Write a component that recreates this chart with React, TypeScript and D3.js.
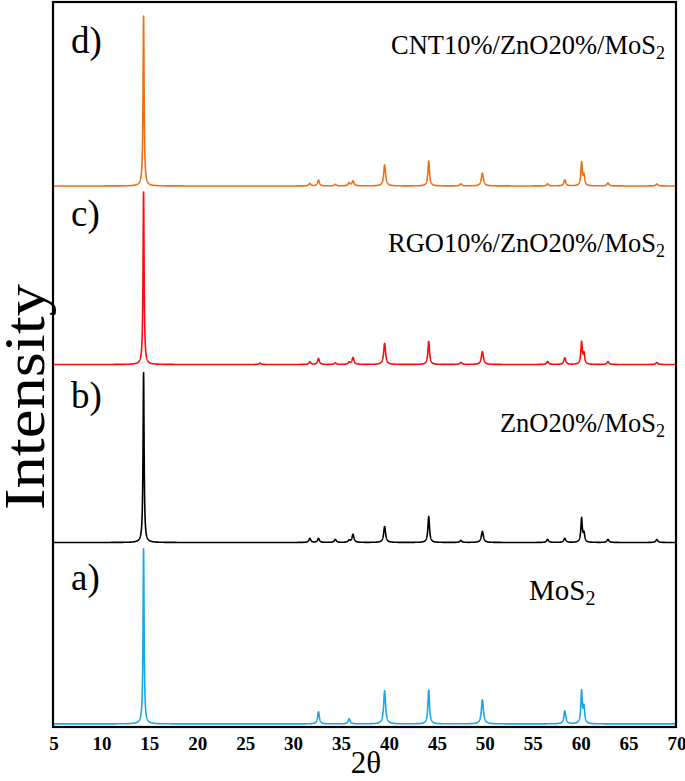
import React from 'react';
import * as d3 from 'd3';

// 2θ tick labels
const xTicks = [5, 10, 15, 20, 25, 30, 35, 40, 45, 50, 55, 60, 65, 70];

// Reflection positions (2θ, degrees)
const peakPositions = [14.45, 26.6, 31.8, 32.7, 34.45, 35.9, 36.3, 39.6, 44.2, 47.55, 49.8, 56.6, 58.4, 60.15, 60.4, 62.9, 68.0];
// Peak half widths (degrees)
const peakWidths = [0.065, 0.12, 0.12, 0.11, 0.12, 0.12, 0.12, 0.12, 0.1, 0.12, 0.13, 0.12, 0.12, 0.09, 0.09, 0.12, 0.12];

// Relative intensities (%), per sample
const relMoS2 = [100, 0, 0, 6.9, 0, 2.9, 0, 18.9, 19.4, 0, 13.7, 0, 7.4, 18.5, 9, 0, 0];
const relZnO = [100, 0, 2.4, 2.4, 1.8, 1.2, 4.7, 9.4, 15.3, 1.2, 6.5, 1.8, 2.4, 14.2, 5, 1.8, 1.8];
const relRGO = [100, 0.8, 1.5, 3.5, 0.9, 1.2, 4, 12.2, 13.3, 1.2, 7.5, 1.7, 3.8, 12.8, 6, 1.7, 1.2];
const relCNT = [100, 0, 1.5, 3.5, 0.9, 1.8, 2.9, 12.4, 14.7, 1.2, 7.6, 1.2, 3.5, 13.6, 6, 1.8, 1.2];

// Main-peak intensity (a.u.) per sample
const mainIntensity = [966, 938, 952, 938];

const sampleNames = ['MoS', 'ZnO20%/MoS', 'RGO10%/ZnO20%/MoS', 'CNT10%/ZnO20%/MoS'];
const panelLetters = ['a)', 'b)', 'c)', 'd)'];
const colors = ['#1aa7ec', '#000000', '#ff0a0a', '#ee6f15'];

const W = 685;
const H = 781;
const left = 53;
const right = 676;
const top = 2;
const bottom = 727;
const offsets = [0.017, 1.018, 2.0, 2.985];
const letterY = [590, 408, 226, 53];
const nameY = [600, 432, 252, 54];

const font = "'Liberation Serif', 'Times New Roman', Times, serif";

function profile(rel: number[], main: number): [number, number][] {
  const pts: [number, number][] = [];
  for (let i = 0; i <= 6500; i++) {
    const x = 5 + i * 0.01;
    let y = 0;
    for (let k = 0; k < peakPositions.length; k++) {
      if (!rel[k]) continue;
      const g = peakWidths[k];
      const d = (x - peakPositions[k]) / g;
      y += (rel[k] / 100) * main / (1 + d * d);
    }
    pts.push([x, y]);
  }
  return pts;
}

export default function App() {
  const x = d3.scaleLinear().domain([5, 70]).range([left, right]);
  const y = d3.scaleLinear().domain([0, 4]).range([bottom, top]);
  const rels = [relMoS2, relZnO, relRGO, relCNT];
  const ts: React.CSSProperties = { fontFamily: font };

  return (
    <svg width={W} height={H} style={{ position: 'absolute', left: 0, top: 0, background: '#fff', fontFamily: font }}>
      <rect x={0} y={0} width={W} height={H} fill="#fff" />
      {rels.map((rel, i) => {
        const pts = profile(rel, mainIntensity[i]);
        const line = d3
          .line<[number, number]>()
          .x((d) => x(d[0]))
          .y((d) => y(offsets[i] + d[1] / 1000));
        return <path key={i} d={line(pts) || ''} fill="none" stroke={colors[i]} strokeWidth={1.6} strokeLinejoin="round" />;
      })}
      <rect x={left} y={top} width={right - left} height={bottom - top} fill="none" stroke="#000" strokeWidth={2.2} />
      {xTicks.map((t) => (
        <text key={t} x={x(t) + 1} y={750} textAnchor="middle" fontSize={19} fontWeight="bold" style={ts}>
          {t}
        </text>
      ))}
      <text x={366} y={773} textAnchor="middle" fontSize={31} style={ts}>2θ</text>
      <text
        transform={`translate(44, 397) rotate(-90)`}
        textAnchor="middle"
        fontSize={56}
        textLength={226}
        lengthAdjust="spacingAndGlyphs"
        style={ts}
      >
        Intensity
      </text>
      {panelLetters.map((l, i) => (
        <text key={l} x={71} y={letterY[i]} fontSize={37} style={ts}>{l}</text>
      ))}
      {sampleNames.map((n, i) => (
        <text key={n} x={i === 0 ? 529 : 665} y={nameY[i]} textAnchor={i === 0 ? 'start' : 'end'} fontSize={i === 0 ? 29 : 26.5} style={ts}>
          {n}
          <tspan fontSize={i === 0 ? 20 : 18} dy={5}>2</tspan>
        </text>
      ))}
    </svg>
  );
}
